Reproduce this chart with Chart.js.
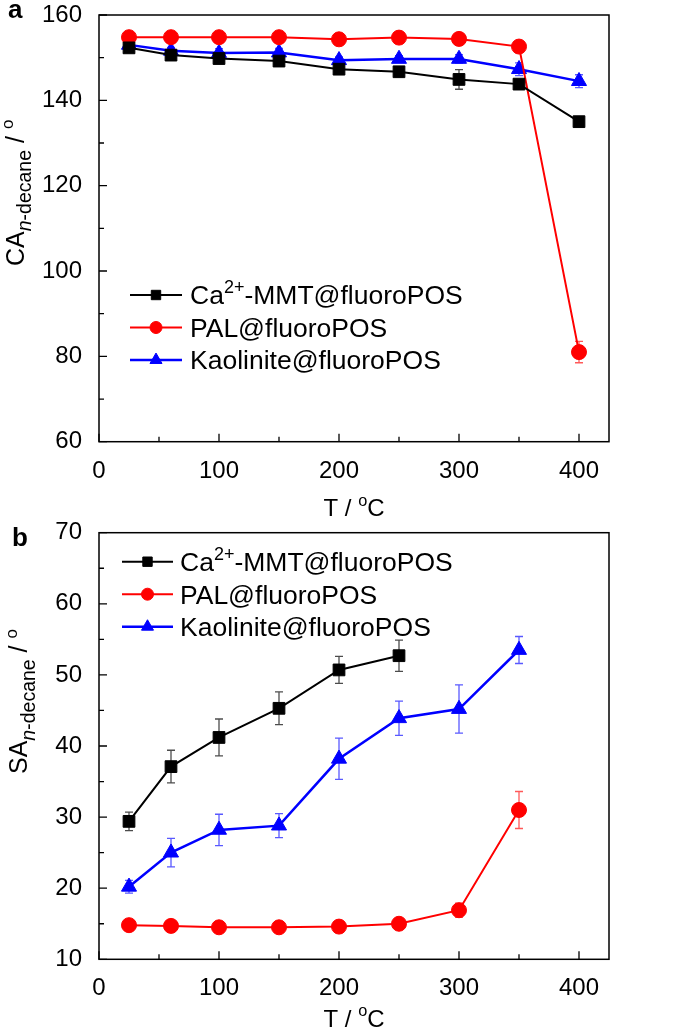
<!DOCTYPE html>
<html>
<head>
<meta charset="UTF-8">
<title>CA and SA of n-decane vs temperature</title>
<script src="https://cdn.jsdelivr.net/npm/chart.js"></script>
<style>
  body { margin: 0; background: #fff; }
  canvas { position: absolute; left: 0; }
</style>
</head>
<body>
<canvas id="chartA" width="685" height="520" style="top:0"></canvas>
<canvas id="chartB" width="685" height="510" style="top:520px"></canvas>
<script>
// temperatures (°C)
var temps = [25, 60, 100, 150, 200, 250, 300, 350, 400];

// panel a: contact angle of n-decane
var caMMT    = [152.3, 150.6, 149.8, 149.2, 147.3, 146.7, 144.9, 143.8, 135.0];
var caMMTErr = [0.8, 0.7, 0.8, 0.8, 1.0, 1.2, 2.3, 1.0, 0.8];
var caPAL    = [154.8, 154.8, 154.8, 154.8, 154.3, 154.7, 154.4, 152.6, 81.0];
var caPALErr = [0.6, 0.5, 0.5, 0.5, 0.6, 0.5, 0.6, 0.8, 2.5];
var caKao    = [153.0, 151.6, 151.1, 151.2, 149.4, 149.7, 149.7, 147.3, 144.5];
var caKaoErr = [0.8, 0.8, 1.0, 1.0, 0.8, 0.8, 1.0, 1.5, 1.5];

// panel b: sliding angle of n-decane
var saMMT    = [29.4, 37.1, 41.2, 45.3, 50.7, 52.7];
var saMMTErr = [1.3, 2.3, 2.6, 2.3, 1.9, 2.2];
var saPAL    = [14.8, 14.7, 14.5, 14.5, 14.6, 15.0, 16.9, 31.0];
var saPALErr = [0.4, 0.4, 0.4, 0.4, 0.4, 0.4, 1.0, 2.6];
var saKao    = [20.2, 25.0, 28.2, 28.8, 38.2, 43.9, 45.2, 53.5];
var saKaoErr = [0.9, 2.0, 2.2, 1.7, 2.9, 2.4, 3.4, 1.9];

var xTicks = [0, 100, 200, 300, 400];
var caTicks = [60, 80, 100, 120, 140, 160];
var saTicks = [10, 20, 30, 40, 50, 60, 70];

var seriesLabels = [
  [{ t: 'Ca' }, { t: '2+', sup: true }, { t: '-MMT@fluoroPOS' }],
  [{ t: 'PAL@fluoroPOS' }],
  [{ t: 'Kaolinite@fluoroPOS' }]
];

var FONT = "'Liberation Sans', Arial, sans-serif";

function pts(vals) {
  return vals.map(function (v, i) { return { x: temps[i], y: v }; });
}

function partSize(p, size) {
  if (p.sub) return size * (p.scale || 0.68);
  if (p.sup) return size * 0.68;
  return size;
}

function drawRich(ctx, parts, x, y, size) {
  parts.forEach(function (p) {
    var s = partSize(p, size);
    var dy = p.sup ? -size * 0.42 : (p.sub ? size * 0.3 : 0);
    ctx.font = (p.italic ? 'italic ' : '') + s + 'px ' + FONT;
    ctx.fillText(p.t, x, y + dy);
    x += ctx.measureText(p.t).width;
  });
  return x;
}

function richWidth(ctx, parts, size) {
  var w = 0;
  parts.forEach(function (p) {
    ctx.font = (p.italic ? 'italic ' : '') + partSize(p, size) + 'px ' + FONT;
    w += ctx.measureText(p.t).width;
  });
  return w;
}

function makePanelPlugin(cfg) {
  return {
    id: 'panel',
    beforeDatasetsDraw: function (chart) {
      var ctx = chart.ctx, ys = chart.scales.y;
      ctx.save();
      chart.data.datasets.forEach(function (ds, i) {
        var meta = chart.getDatasetMeta(i);
        ctx.strokeStyle = ds.errColor;
        ctx.lineWidth = 1.3;
        meta.data.forEach(function (pt, j) {
          var e = ds.errors[j], v = ds.data[j].y;
          var y1 = ys.getPixelForValue(v + e), y2 = ys.getPixelForValue(v - e);
          ctx.beginPath();
          ctx.moveTo(pt.x, y1); ctx.lineTo(pt.x, y2);
          ctx.moveTo(pt.x - 4, y1); ctx.lineTo(pt.x + 4, y1);
          ctx.moveTo(pt.x - 4, y2); ctx.lineTo(pt.x + 4, y2);
          ctx.stroke();
        });
      });
      ctx.restore();
    },
    afterDraw: function (chart) {
      var ctx = chart.ctx, a = chart.chartArea;
      var xs = chart.scales.x, ys = chart.scales.y;
      ctx.save();
      // frame
      ctx.strokeStyle = '#000';
      ctx.lineWidth = 1.5;
      ctx.strokeRect(a.left, a.top, a.right - a.left, a.bottom - a.top);
      // inward ticks, major + minor
      ctx.lineWidth = 1.3;
      ctx.beginPath();
      for (var t = 0; t <= 425; t += 50) {
        var px = xs.getPixelForValue(t), len = (t % 100 === 0) ? 8 : 5;
        ctx.moveTo(px, a.bottom); ctx.lineTo(px, a.bottom - len);
      }
      for (var v = ys.min; v <= ys.max; v += cfg.minorY) {
        var py = ys.getPixelForValue(v), ly = ((v - ys.min) % cfg.majorY === 0) ? 8 : 5;
        ctx.moveTo(a.left, py); ctx.lineTo(a.left + ly, py);
      }
      ctx.stroke();

      ctx.fillStyle = '#000';
      ctx.textAlign = 'left';
      ctx.textBaseline = 'alphabetic';
      // panel letter
      ctx.font = 'bold 26px ' + FONT;
      ctx.fillText(cfg.letter, cfg.letterX, cfg.letterY);
      // x title
      var xt = [{ t: 'T / ' }, { t: 'o', sup: true }, { t: 'C' }];
      var w = richWidth(ctx, xt, 24);
      drawRich(ctx, xt, (a.left + a.right) / 2 - w / 2, cfg.xTitleY, 24);
      // y title
      ctx.save();
      ctx.translate(cfg.yTitleX, cfg.yTitleY);
      ctx.rotate(-Math.PI / 2);
      drawRich(ctx, [{ t: cfg.yName }, { t: 'n', sub: true, italic: true, scale: 0.78 },
        { t: '-decane', sub: true, scale: 0.78 }, { t: ' / ' }, { t: 'o', sup: true }], 0, 0, 25);
      ctx.restore();
      // legend
      chart.data.datasets.forEach(function (ds, i) {
        var ry = cfg.legY + i * cfg.legGap;
        ctx.strokeStyle = ds.borderColor;
        ctx.lineWidth = ds.borderWidth;
        ctx.beginPath();
        ctx.moveTo(cfg.legX0, ry); ctx.lineTo(cfg.legX1, ry);
        ctx.stroke();
        ctx.fillStyle = ds.borderColor;
        ctx.lineWidth = 1;
        Chart.helpers.drawPoint(ctx, { pointStyle: ds.pointStyle, radius: ds.pointRadius * 0.8, rotation: 0, borderWidth: 1 },
          (cfg.legX0 + cfg.legX1) / 2, ry);
        ctx.fillStyle = '#000';
        drawRich(ctx, seriesLabels[i], cfg.legText, ry + 9.4, 26.5);
      });
      ctx.restore();
    }
  };
}

function makeChart(id, sets, yMin, yMax, yStep, cfg) {
  var colors = ['#000000', '#ff0000', '#0000ff'];
  var errColors = ['rgba(0,0,0,0.7)', 'rgba(255,0,0,0.65)', 'rgba(0,0,255,0.65)'];
  var styles = ['rect', 'circle', 'triangle'];
  var radii = [8.3, 7.5, 8.7];
  var widths = [2, 2, 2.5];
  return new Chart(document.getElementById(id), {
    type: 'line',
    data: {
      datasets: sets.map(function (s, i) {
        return {
          data: pts(s[0]), errors: s[1],
          borderColor: colors[i], backgroundColor: colors[i],
          pointBackgroundColor: colors[i], pointBorderColor: colors[i],
          errColor: errColors[i],
          borderWidth: widths[i], pointStyle: styles[i],
          pointRadius: radii[i], pointBorderWidth: 1, tension: 0
        };
      })
    },
    options: {
      responsive: false,
      animation: false,
      layout: { padding: { top: cfg.top, right: 76, left: 0, bottom: 0 } },
      plugins: { legend: { display: false }, tooltip: { enabled: false } },
      scales: {
        x: {
          type: 'linear', min: 0, max: 425,
          grid: { display: false }, border: { display: false },
          ticks: {
            stepSize: 100, includeBounds: false, maxRotation: 0, padding: 7,
            color: '#000', font: { family: FONT, size: 24 }
          },
          afterBuildTicks: function (s) { s.ticks = xTicks.map(function (v) { return { value: v }; }); },
          afterFit: function (s) { s.height = cfg.xAxisH; s.paddingLeft = 0; s.paddingRight = 0; }
        },
        y: {
          min: yMin, max: yMax,
          grid: { display: false }, border: { display: false },
          ticks: {
            stepSize: yStep, padding: 9,
            color: '#000', font: { family: FONT, size: 24 }
          },
          afterBuildTicks: function (s) { s.ticks = cfg.yTicks.map(function (v) { return { value: v }; }); },
          afterFit: function (s) { s.width = 99; s.paddingTop = 0; s.paddingBottom = 0; }
        }
      }
    },
    plugins: [makePanelPlugin(cfg)]
  });
}

makeChart('chartA', [[caMMT, caMMTErr], [caPAL, caPALErr], [caKao, caKaoErr]], 60, 160, 20, {
  top: 15, xAxisH: 78.3, yTicks: caTicks, majorY: 20, minorY: 10,
  letter: 'a', letterX: 8, letterY: 18,
  xTitleY: 516, yName: 'CA', yTitleX: 23.5, yTitleY: 266,
  legY: 295, legGap: 32.5, legX0: 130, legX1: 182, legText: 190
});

makeChart('chartB', [[saMMT, saMMTErr], [saPAL, saPALErr], [saKao, saKaoErr]], 10, 70, 10, {
  top: 12.7, xAxisH: 70.7, yTicks: saTicks, majorY: 10, minorY: 5,
  letter: 'b', letterX: 12, letterY: 26,
  xTitleY: 506.5, yName: 'SA', yTitleX: 27, yTitleY: 254,
  legY: 41.7, legGap: 32.5, legX0: 122, legX1: 173, legText: 180
});
</script>
</body>
</html>
